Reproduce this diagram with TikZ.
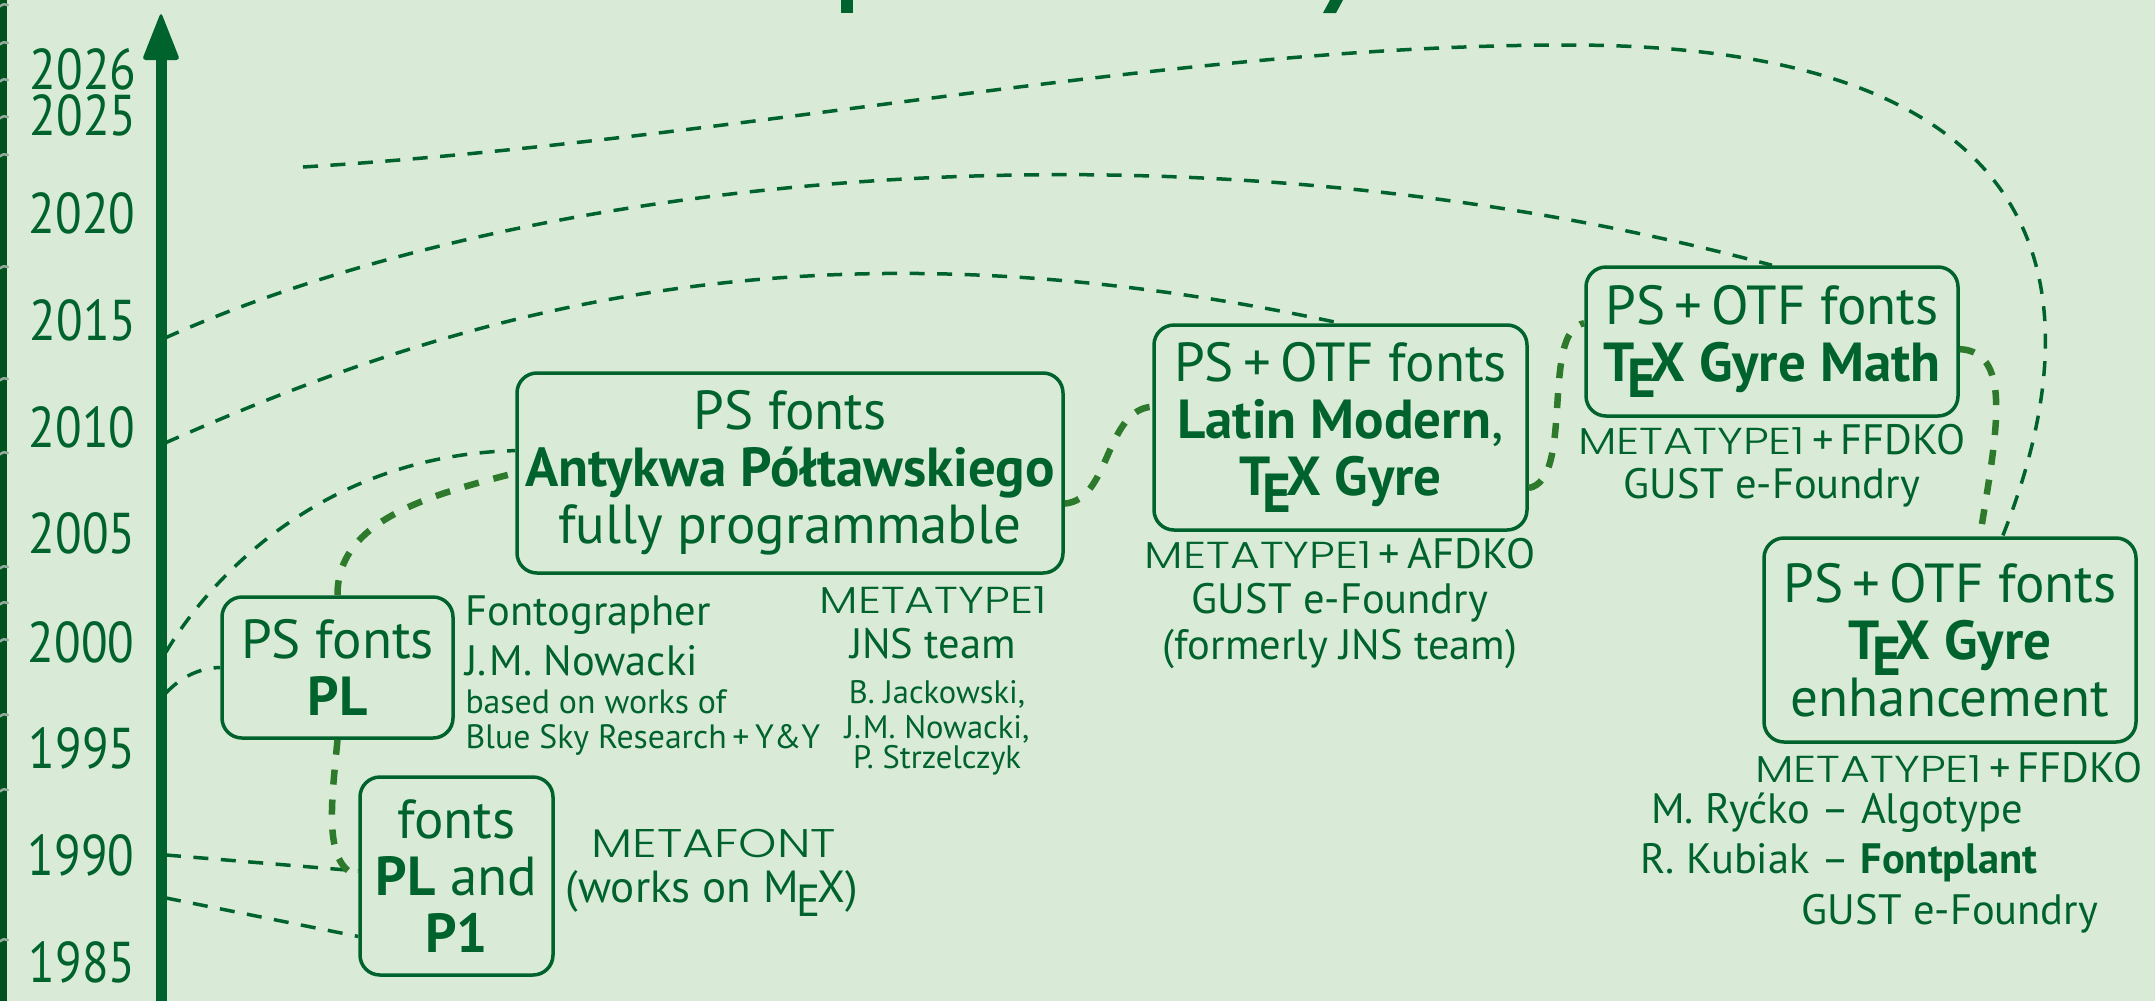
\documentclass[tikz,border=0pt]{standalone}
\usepackage{fontspec}
\setmainfont{PT Sans}
\newfontfamily\logofont{Poppins Light}[FakeStretch=1.22]
\newfontfamily\yearfont{PT Sans}[FakeStretch=0.85]
\usetikzlibrary{calc}
\definecolor{bg}{RGB}{217,235,214}
\definecolor{dk}{RGB}{0,99,45}
\definecolor{mid}{RGB}{45,122,45}
\definecolor{strip}{RGB}{0,82,30}
\definecolor{tickc}{RGB}{150,172,160}
\newcommand\TeXl{T\kern-.14em\lower.3em\hbox{E}\kern-.1em X}
\newcommand\MEXl{M\kern-.06em\lower.32em\hbox{E}\kern-.06em X}
\newcommand\MTone{{\logofont\fontsize{15}{16}\selectfont METATYPE1}}
\begin{document}
\begin{tikzpicture}[x=0.4pt,y=-0.4pt,
  fbox/.style={draw=dk, text=dk, line width=1.4pt, rounded corners=8pt, align=center, inner sep=1pt,
    font=\fontsize{22}{22.8}\selectfont},
  thindash/.style={draw=dk, line width=1.4pt, dash pattern=on 6pt off 5pt},
  thickdash/.style={draw=mid, line width=2.6pt, dash pattern=on 6pt off 6pt},
  yr/.style={anchor=base east, inner sep=0, text=dk, font=\yearfont\fontsize{23}{24}\selectfont},
  med/.style={anchor=base, inner sep=0, text=dk, font=\fontsize{17}{18}\selectfont},
  medw/.style={anchor=base west, inner sep=0, text=dk, font=\fontsize{17}{18}\selectfont},
  sml/.style={anchor=base, inner sep=0, text=dk, font=\fontsize{13}{14}\selectfont},
  smlw/.style={anchor=base west, inner sep=0, text=dk, font=\fontsize{13.5}{14}\selectfont},
  lgo/.style={anchor=base, inner sep=0, text=dk, font=\logofont\fontsize{15}{16}\selectfont}]
% background and bounding box
\fill[bg] (0,0) rectangle (2155,1001);
\useasboundingbox (0,0) rectangle (2155,1001);
% left strip with ticks
\fill[strip] (0,0) rectangle (7,1001);
\foreach \t in {5,43,80,117,155,267,379,453,567,603,640,715,790,940}
  \draw[tickc, line width=1pt, line cap=round] (0,\t+1.5) .. controls (3,\t-1) .. (8,\t);
% title fragments at the top edge
\fill[dk] (841,0) rectangle (853,13);
\fill[dk] (1330,0) -- (1343,0) -- (1336,13) -- (1323,13) -- cycle;
% time axis
\draw[dk, line width=4.4pt] (161,1001) -- (161,56);
\fill[dk, rounded corners=1.5pt] (161,12) -- (180,60) -- (142,60) -- cycle;
% years
\node[yr] (y2026) at (137,89) {2026};
\node[yr] (y2025) at (137,135) {2025};
\node[yr] (y2020) at (136,233) {2020};
\node[yr] (y2015) at (137,340) {2015};
\node[yr] (y2010) at (136,447) {2010};
\node[yr] (y2005) at (136,553) {2005};
\node[yr] (y2000) at (135,662) {2000};
\node[yr] (y1995) at (136,768) {1995};
\node[yr] (y1990) at (135,875) {1990};
\node[yr] (y1985) at (136,982) {1985};
% boxes
\node[fbox, minimum width=77.2pt, minimum height=79.2pt] (P1) at (456.5,876) {fonts\\\textbf{PL} and\\\textbf{P1}};
\node[fbox, minimum width=92.4pt, minimum height=56.4pt] (PL) at (337.5,667.5) {PS fonts\\\textbf{PL}};
\node[fbox, minimum width=218.4pt, minimum height=80pt] (Ant) at (790,473) {PS fonts\\\textbf{Antykwa Półtawskiego}\\fully programmable};
\node[fbox, minimum width=149.2pt, minimum height=82pt] (LM) at (1340.5,427.5) {PS\,+\,OTF fonts\\\textbf{Latin Modern},\\\textbf{\TeXl\ Gyre}};
\node[fbox, minimum width=148.8pt, minimum height=59.6pt] (Math) at (1772,341.5) {PS\,+\,OTF fonts\\\textbf{\TeXl\ Gyre Math}};
\node[fbox, minimum width=148.8pt, minimum height=81.6pt] (Enh) at (1950,640) {PS\,+\,OTF fonts\\\textbf{\TeXl\ Gyre}\\enhancement};
% annotations
\node[medw] (fg1) at (465,625) {Fontographer};
\node[medw] (fg2) at (465,675) {J.\kern.06em M. Nowacki};
\node[smlw] (fg3) at (465,713) {based on works of};
\node[smlw] (fg4) at (465,748) {Blue Sky Research\,+\,Y\&Y};
\node[lgo] (jn1) at (933,613) {METATYPE1};
\node[med] (jn2) at (933,658) {JNS team};
\node[sml] (jn3) at (937,703) {B. Jackowski,};
\node[sml] (jn4) at (937,738) {J.\kern.06em M. Nowacki,};
\node[sml] (jn5) at (937,768) {P. Strzelczyk};
\node[lgo, font=\logofont\fontsize{16}{17}\selectfont] (mf1) at (714,857) {METAFONT};
\node[med, font=\fontsize{18}{19}\selectfont] (mf2) at (712,902) {(works on \MEXl)};
\node[med] (lm1) at (1340,568) {\MTone\,+\,AFDKO};
\node[med] (lm2) at (1340,613) {GUST e-Foundry};
\node[med] (lm3) at (1340,659) {(formerly JNS team)};
\node[med] (mt1) at (1772,454) {\MTone\,+\,FFDKO};
\node[med] (mt2) at (1772,498) {GUST e-Foundry};
\node[med] (en1) at (1949,782) {\MTone\,+\,FFDKO};
\node[med] (en2) at (1837,823) {M. Ryćko -- Algotype};
\node[med] (en3) at (1839,873) {R. Kubiak -- \textbf{Fontplant}};
\node[med] (en4) at (1950,924) {GUST e-Foundry};
% free ends on the axis
\coordinate (a1) at (166,855);
\coordinate (a2) at (166,898);
\coordinate (a3) at (166,693);
\coordinate (a4) at (166,652);
\coordinate (a5) at (165,443);
\coordinate (a6) at (165,338);
\coordinate (g0) at (303,167);
% thin dashed connectors
\draw[thindash] (a1) -- ($(P1.north west)!0.475!(P1.south west)$);
\draw[thindash] (a2) -- ($(P1.north west)!0.8!(P1.south west)$);
\draw[thindash] (a3) .. controls (180,678) and (198,668) .. (PL.west);
\draw[thindash] (a4) .. controls (215,570) and (330,455) .. ($(Ant.north west)!0.39!(Ant.south west)$);
\draw[thindash] (a5) .. controls (453,316) and (796,206) .. (LM.north);
\draw[thindash] (a6) .. controls (521,178) and (1166,103) .. (Math.north);
\draw[thindash] (g0) .. controls (740,140) and (1166,45) .. (1568,45)
  .. controls (2099,45) and (2085,329) .. ($(Enh.north west)!0.64!(Enh.north east)$);
% thick dashed connectors
\draw[thickdash] (PL.south) .. controls (332,800) and (322,865) .. (P1.west);
\draw[thickdash] (PL.north) .. controls (337,520) and (430,495) .. (Ant.west);
\draw[thickdash] ($(Ant.north east)!0.65!(Ant.south east)$) .. controls (1110,500) and (1105,410) .. ($(LM.north west)!0.4!(LM.south west)$);
\draw[thickdash] ($(LM.north east)!0.79!(LM.south east)$) .. controls (1575,480) and (1540,330) .. ($(Math.north west)!0.38!(Math.south west)$);
\draw[thickdash] ($(Math.north east)!0.55!(Math.south east)$) .. controls (2015,352) and (1995,440) .. ($(Enh.north west)!0.58!(Enh.north east)$);
\end{tikzpicture}
\end{document}
